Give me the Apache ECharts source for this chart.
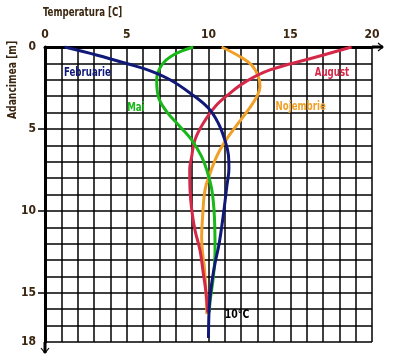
<!DOCTYPE html>
<html><head><meta charset="utf-8">
<script src="https://cdn.jsdelivr.net/npm/echarts@6/dist/echarts.min.js"></script>
<style>html,body{margin:0;padding:0;background:#fff}#c{width:393px;height:360px}</style>
</head><body><div id="c"></div>
<script>
// Temperature (C) vs depth (m)
var febT = [1.2, 3.2, 5.1, 6.4, 7.65, 8.9, 10.0, 10.6, 11.0, 11.22, 11.25, 11.12, 10.9, 10.65, 10.4, 10.2, 10.05, 10.0];
var febD = [0, 0.5, 1.04, 1.44, 2.0, 2.83, 3.74, 4.65, 5.67, 6.6, 7.4, 8.5, 10.3, 12.0, 13.2, 14.4, 15.8, 17.75];
var maiT = [9.07, 7.85, 7.14, 6.83, 6.93, 7.44, 8.26, 8.97, 9.58, 9.89, 10.2, 10.36, 10.4, 10.3, 10.1, 10.05];
var maiD = [0, 0.49, 1.1, 2.0, 3.03, 3.94, 4.86, 5.67, 6.69, 7.5, 8.7, 10.35, 12.4, 14.0, 15.5, 16.2];
var augT = [18.75, 16.2, 13.76, 12.3, 11.3, 10.4, 9.68, 9.17, 8.97, 8.85, 8.87, 8.97, 9.17, 9.48, 9.68, 9.85, 9.95];
var augD = [0, 0.72, 1.4, 2.1, 2.83, 3.64, 4.65, 5.67, 6.69, 7.5, 8.7, 9.9, 11.16, 12.4, 13.8, 15.0, 16.2];
var nojT = [10.8, 11.93, 12.64, 13.05, 13.15, 12.95, 12.43, 11.82, 11.21, 10.7, 10.4, 10.1, 9.79, 9.64, 9.58, 9.62, 9.75, 9.85, 9.9];
var nojD = [0, 0.59, 1.1, 1.81, 2.42, 3.03, 3.84, 4.65, 5.47, 6.28, 6.9, 7.7, 8.7, 10.35, 11.6, 12.4, 13.5, 15.0, 16.3];
var xTickLabels = [0, 5, 10, 15, 20];
var yTickLabels = [0, 5, 10, 15, 18];
var yTickMarks = [5, 10, 15];
var xTitle = 'Temperatura [C]';
var yTitle = 'Adancimea [m]';
var noteText = '10°C';

var FONT = '"DejaVu Sans Condensed","Liberation Sans Narrow","DejaVu Sans",sans-serif';
var BROWN = '#3a2610';
var colors = {Februarie:'#101878', Mai:'#18b818', August:'#d42848', Nojembrie:'#f0a028'};

function pts(T, D){ return T.map(function(t,i){ return [t, D[i]]; }); }
function mkSeries(name, T, D){
  return {type:'line', name:name, data:pts(T,D), smooth:0.4, smoothMonotone:'none',
    symbol:'none', lineStyle:{width:3, color:colors[name]}, z:3};
}

var chart = echarts.init(document.getElementById('c'), null, {renderer:'canvas'});
chart.setOption({
  animation:false,
  backgroundColor:'#fff',
  grid:{left:45, top:47, right:21, bottom:18},
  xAxis:{type:'value', position:'top', min:0, max:20, interval:1,
    axisLine:{show:true, lineStyle:{color:'#000', width:3}},
    axisTick:{show:false},
    axisLabel:{customValues:xTickLabels, color:BROWN, fontFamily:FONT, fontWeight:'bold', fontSize:12, margin:6},
    splitLine:{show:true, lineStyle:{color:'#000', width:1.5}}
  },
  yAxis:[{type:'value', inverse:true, min:0, max:18, interval:1,
    axisLine:{show:true, lineStyle:{color:'#000', width:3}},
    axisTick:{show:false},
    axisLabel:{customValues:yTickLabels, color:BROWN, fontFamily:FONT, fontWeight:'bold', fontSize:12, margin:9},
    splitLine:{show:true, lineStyle:{color:'#000', width:1.5}}
  },{type:'value', inverse:true, min:0, max:18, position:'left',
    axisLine:{show:false}, axisLabel:{show:false}, splitLine:{show:false},
    axisTick:{show:true, customValues:yTickMarks, length:7, lineStyle:{color:'#000', width:1.5}}
  }],
  series:[
    mkSeries('Nojembrie', nojT, nojD),
    mkSeries('August', augT, augD),
    mkSeries('Mai', maiT, maiD),
    mkSeries('Februarie', febT, febD)
  ]
});

function px(c){ return chart.convertToPixel({gridIndex:0}, c); }
var tr = px([20, 0]), bl = px([0, 18]), o = px([0, 0]);
// label anchors (left edge, vertical middle) in data units
var labels = [
  {t:'Februarie', c:[1.16, 1.55], col:colors.Februarie, size:12},
  {t:'Mai', c:[5.03, 3.7], col:colors.Mai, size:12},
  {t:'August', c:[16.5, 1.57], col:colors.August, size:12},
  {t:'Nojembrie', c:[14.1, 3.64], col:colors.Nojembrie, size:12},
  {t:noteText, c:[11.0, 16.35], col:'#000', size:13}
];
var g = [
  {type:'polyline', shape:{points:[[tr[0],tr[1]],[tr[0]+11,tr[1]]]}, style:{stroke:'#000', lineWidth:3}, z:10},
  {type:'polyline', shape:{points:[[tr[0]+6,tr[1]-4],[tr[0]+11,tr[1]],[tr[0]+6,tr[1]+4]]}, style:{stroke:'#000', lineWidth:1.2, fill:null}, z:10},
  {type:'polyline', shape:{points:[[bl[0],bl[1]],[bl[0],bl[1]+11]]}, style:{stroke:'#000', lineWidth:3}, z:10},
  {type:'polyline', shape:{points:[[bl[0]-4,bl[1]+6],[bl[0],bl[1]+11],[bl[0]+4,bl[1]+6]]}, style:{stroke:'#000', lineWidth:1.2, fill:null}, z:10},
  {type:'text', x:o[0]-2, y:13, scaleX:0.8, style:{text:xTitle, fill:BROWN, font:'bold 12px '+FONT, textVerticalAlign:'middle'}, z:10},
  {type:'text', x:13, y:119, rotation:Math.PI/2, scaleX:0.85, style:{text:yTitle, fill:BROWN, font:'bold 12px '+FONT, textVerticalAlign:'middle'}, z:10}
];
labels.forEach(function(l){
  var p = px(l.c);
  g.push({type:'text', x:p[0], y:p[1], scaleX:0.8, z:10,
    style:{text:l.t, fill:l.col, font:'bold '+l.size+'px '+FONT, textVerticalAlign:'middle'}});
});
chart.setOption({graphic:g});
</script></body></html>
